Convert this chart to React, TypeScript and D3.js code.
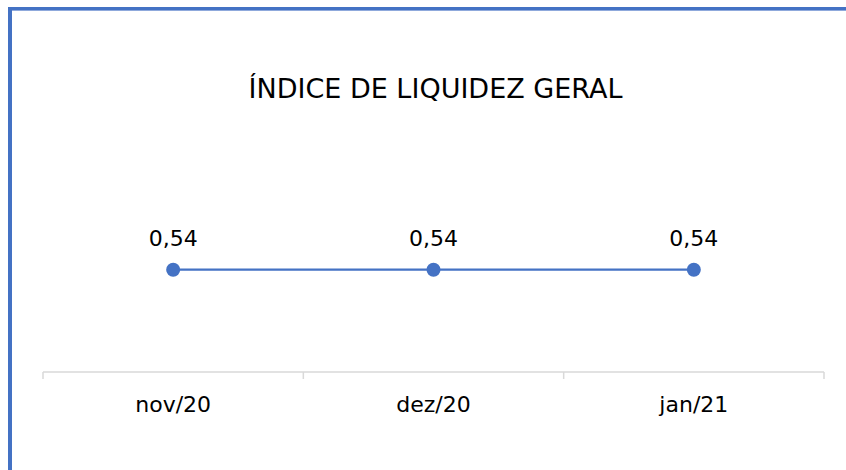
import React, { useEffect, useRef } from "react";
import * as d3 from "d3";

const categories = ["nov/20", "dez/20", "jan/21"];
const values = [0.54, 0.54, 0.54];
const title = "ÍNDICE DE LIQUIDEZ GERAL";

const size = { width: 846, height: 470 };
const plot = { left: 43, right: 824, top: 140, bottom: 372 };
const blue = "#4472C4";
const font = "'Century Gothic', 'DejaVu Sans', sans-serif";

const App = () => {
  const ref = useRef<SVGGElement>(null);

  useEffect(() => {
    const g = d3.select(ref.current);
    g.selectAll("*").remove();

    const x = d3
      .scaleBand()
      .domain(categories)
      .range([plot.left, plot.right]);
    // y axis is hidden; range picked so 0.54 sits where the reference puts it
    const y = d3.scaleLinear().domain([0, 1]).range([plot.bottom + 50, plot.top]);

    const axis = d3.axisBottom(x).tickSize(0).tickPadding(0);

    g.append("line")
      .attr("x1", plot.left)
      .attr("x2", plot.right)
      .attr("y1", plot.bottom)
      .attr("y2", plot.bottom)
      .attr("stroke", "#d9d9d9")
      .attr("stroke-width", 1.5);

    // tick marks sit between categories
    const edges = categories.map(c => x(c)!).concat([plot.right]);
    g.selectAll("line.tick")
      .data(edges)
      .enter()
      .append("line")
      .attr("class", "tick")
      .attr("x1", d => d)
      .attr("x2", d => d)
      .attr("y1", plot.bottom)
      .attr("y2", plot.bottom + 7)
      .attr("stroke", "#d9d9d9")
      .attr("stroke-width", 1.5);

    const axisG = g
      .append("g")
      .attr("transform", `translate(0, ${plot.bottom + 40})`)
      .call(axis);
    axisG.select(".domain").remove();
    axisG
      .selectAll("text")
      .attr("dy", 0)
      .style("font-family", font)
      .style("font-size", "22px")
      .style("fill", "#000");

    const cx = (d: string) => x(d)! + x.bandwidth() / 2;
    const pts = categories.map((c, i) => ({ c, v: values[i] }));

    const line = d3
      .line<{ c: string; v: number }>()
      .x(d => cx(d.c))
      .y(d => y(d.v));

    g.append("path")
      .datum(pts)
      .attr("d", line)
      .attr("fill", "none")
      .attr("stroke", blue)
      .attr("stroke-width", 2.25);

    g.selectAll("circle.pt")
      .data(pts)
      .enter()
      .append("circle")
      .attr("class", "pt")
      .attr("cx", d => cx(d.c))
      .attr("cy", d => y(d.v))
      .attr("r", 7)
      .attr("fill", blue);

    g.selectAll("text.lbl")
      .data(pts)
      .enter()
      .append("text")
      .attr("class", "lbl")
      .attr("x", d => cx(d.c))
      .attr("y", d => y(d.v) - 24)
      .attr("text-anchor", "middle")
      .style("font-family", font)
      .style("font-size", "22px")
      .text(d => d.v.toFixed(2).replace(".", ","));

    g.append("text")
      .attr("x", (plot.left + plot.right) / 2 + 2)
      .attr("y", 98)
      .attr("text-anchor", "middle")
      .style("font-family", font)
      .style("font-size", "27px")
      .text(title);
  }, []);

  return (
    <svg
      width={size.width}
      height={size.height}
      style={{ position: "absolute", left: 0, top: 0, background: "#fff" }}
    >
      <rect x={8} y={7} width={size.width} height={3} fill={blue} />
      <rect x={8} y={10} width={size.width} height={1} fill="#8fa9dc" />
      <rect x={8} y={7} width={4} height={size.height} fill={blue} />
      <g ref={ref} />
    </svg>
  );
};

export default App;
